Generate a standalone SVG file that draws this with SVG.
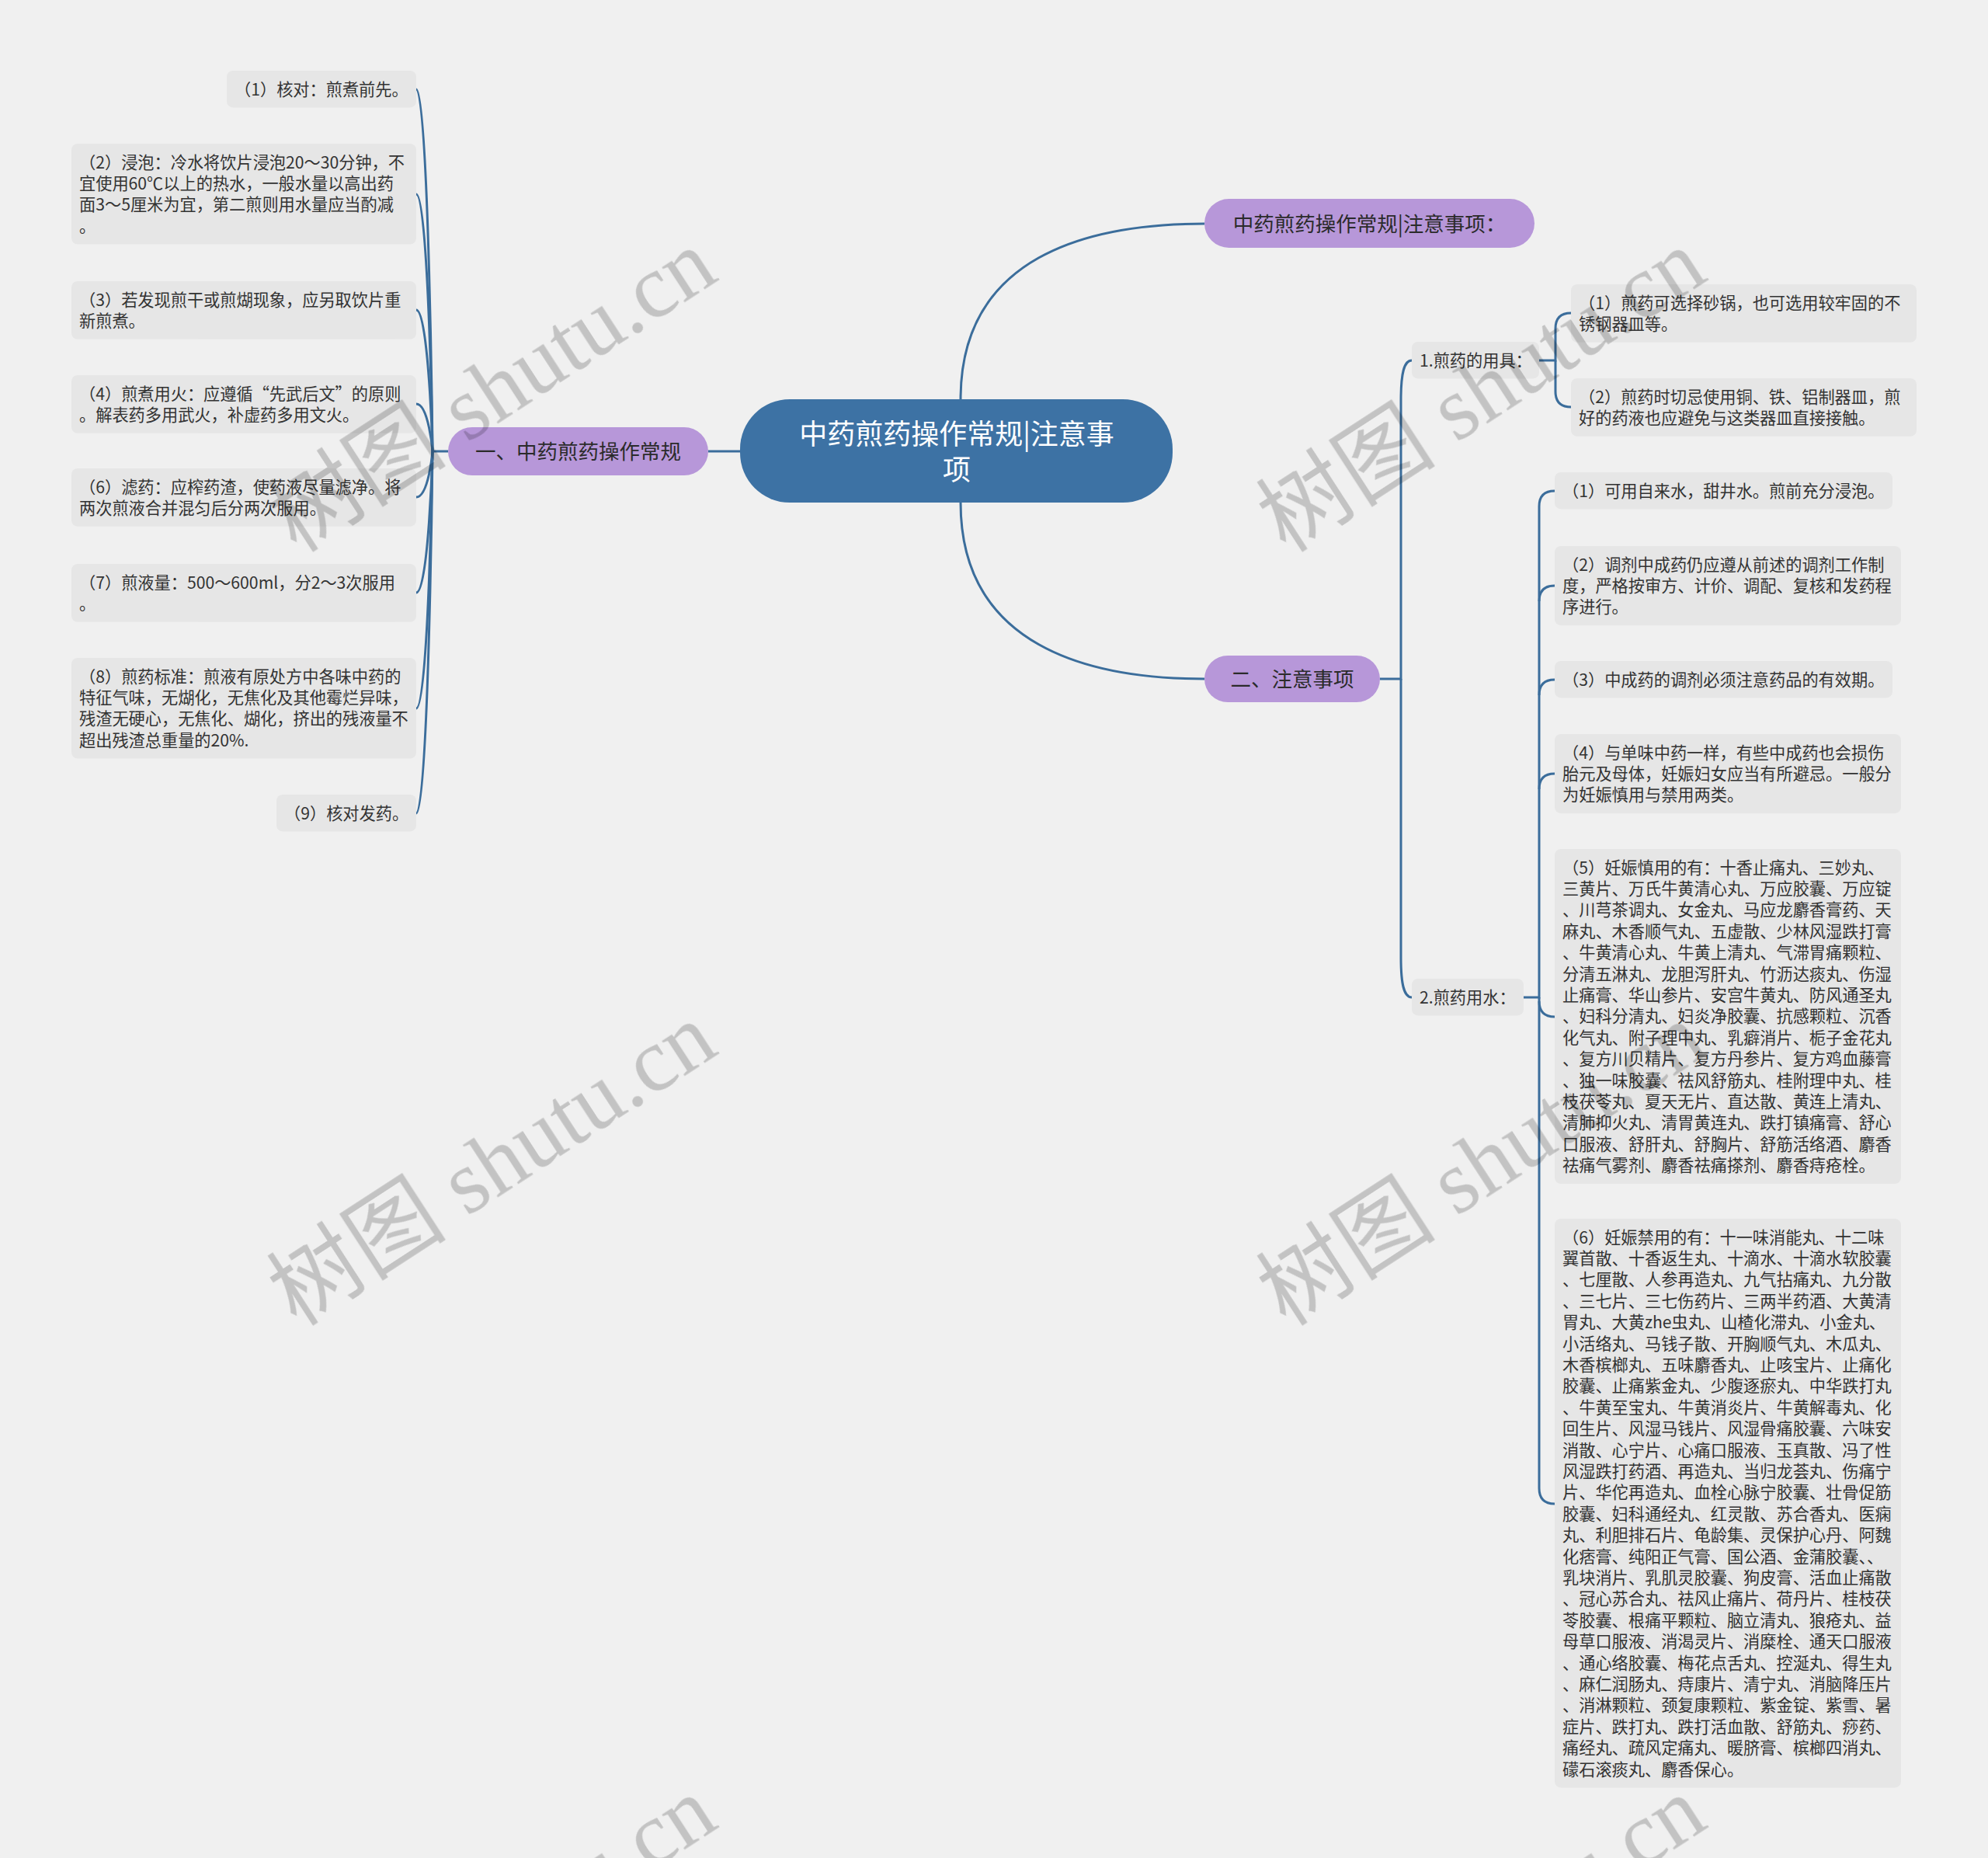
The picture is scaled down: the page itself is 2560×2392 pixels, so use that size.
<svg xmlns="http://www.w3.org/2000/svg" width="2560" height="2392" viewBox="0 0 2560 2392">
<style>
.box{fill:#e6e6e6}
.t{font-family:"Noto Sans CJK SC","Noto Sans",sans-serif;font-size:21.2px;fill:#333}
.pur{fill:#b797d9}
.pt{font-family:"Noto Sans CJK SC","Noto Sans",sans-serif;font-size:26.5px;fill:#2b2b2b;text-anchor:middle}
.root{fill:#3d72a4}
.rt{font-family:"Noto Sans CJK SC","Noto Sans",sans-serif;font-size:36px;fill:#ffffff;text-anchor:middle}
.ln{fill:none;stroke:#3b6d9b;stroke-width:3}
.wm{font-family:"Liberation Serif","Noto Sans CJK SC",serif;font-size:116px;fill:#d0d0d0}
</style>
<rect width="2560" height="2392" fill="#f0f0f0"/>

<g id="connectors">
<path class="ln" d="M1237,514 C1237,330 1400,288 1551,288"/>
<path class="ln" d="M1237,647 C1237,831 1400,874 1551,874"/>
<path class="ln" d="M953,581 H912"/>
<path class="ln" d="M577,581 H557"/>
<path class="ln" d="M557,581 C557,581 552,115 536,115"/>
<path class="ln" d="M557,581 C557,581 552,250 536,250"/>
<path class="ln" d="M557,581 C557,581 552,399 536,399"/>
<path class="ln" d="M557,581 C557,581 552,520 536,520"/>
<path class="ln" d="M557,581 C557,581 552,640 536,640"/>
<path class="ln" d="M557,581 C557,581 552,763 536,763"/>
<path class="ln" d="M557,581 C557,581 552,912 536,912"/>
<path class="ln" d="M557,581 C557,581 552,1047 536,1047"/>
<path class="ln" d="M1777,874 H1804 V515 C1804,480 1808,464 1818,464"/>
<path class="ln" d="M1804,874 V1233 C1804,1268 1808,1284 1818,1284"/>
<path class="ln" d="M1982,464 H2003 V423 Q2003,403 2023,403"/>
<path class="ln" d="M2003,464 V504 Q2003,524 2023,524"/>
<path class="ln" d="M1962,1284 H1982 V652 Q1982,632 2002,632"/>
<path class="ln" d="M1982,774 Q1982,754 2002,754"/>
<path class="ln" d="M1982,895 Q1982,875 2002,875"/>
<path class="ln" d="M1982,1016 Q1982,996 2002,996"/>
<path class="ln" d="M1982,1284 V1916 Q1982,1936 2002,1936"/>
<path class="ln" d="M1982,1289 Q1982,1309 2002,1309"/>
</g>

<g id="root">
<rect class="root" x="953" y="514" width="557" height="133" rx="64"/>
<text class="rt" x="1232" y="572">中药煎药操作常规|注意事</text>
<text class="rt" x="1232" y="618">项</text>
</g>

<g id="top-title">
<rect class="pur" x="1551" y="256" width="425" height="63" rx="31.5"/>
<text class="pt" x="1763.5" y="297.5">中药煎药操作常规|注意事项：</text>
</g>

<g id="branch-left">
<rect class="pur" x="577" y="550" width="335" height="62" rx="31"/>
<text class="pt" x="744.5" y="591">一、中药煎药操作常规</text>
</g>

<g id="branch-right">
<rect class="pur" x="1551" y="844" width="226" height="60" rx="30"/>
<text class="pt" x="1664" y="884">二、注意事项</text>
</g>

<g id="l1">
<rect class="box" x="292" y="91" width="244" height="47.4" rx="8"/>
<text class="t" x="302" y="122.5">（1）核对：煎煮前先。</text>
</g>
<g id="l2">
<rect class="box" x="92" y="185" width="444" height="129.6" rx="8"/>
<text class="t" x="102" y="216.5">（2）浸泡：冷水将饮片浸泡20～30分钟，不</text>
<text class="t" x="102" y="243.9">宜使用60℃以上的热水，一般水量以高出药</text>
<text class="t" x="102" y="271.3">面3～5厘米为宜，第二煎则用水量应当酌减</text>
<text class="t" x="102" y="298.7">。</text>
</g>
<g id="l3">
<rect class="box" x="92" y="362" width="444" height="74.8" rx="8"/>
<text class="t" x="102" y="393.5">（3）若发现煎干或煎煳现象，应另取饮片重</text>
<text class="t" x="102" y="420.9">新煎煮。</text>
</g>
<g id="l4">
<rect class="box" x="92" y="483" width="444" height="74.8" rx="8"/>
<text class="t" x="102" y="514.5">（4）煎煮用火：应遵循“先武后文”的原则</text>
<text class="t" x="102" y="541.9">。解表药多用武火，补虚药多用文火。</text>
</g>
<g id="l6">
<rect class="box" x="92" y="603" width="444" height="74.8" rx="8"/>
<text class="t" x="102" y="634.5">（6）滤药：应榨药渣，使药液尽量滤净。将</text>
<text class="t" x="102" y="661.9">两次煎液合并混匀后分两次服用。</text>
</g>
<g id="l7">
<rect class="box" x="92" y="726" width="444" height="74.8" rx="8"/>
<text class="t" x="102" y="757.5">（7）煎液量：500～600ml，分2～3次服用</text>
<text class="t" x="102" y="784.9">。</text>
</g>
<g id="l8">
<rect class="box" x="92" y="847" width="444" height="129.6" rx="8"/>
<text class="t" x="102" y="878.5">（8）煎药标准：煎液有原处方中各味中药的</text>
<text class="t" x="102" y="905.9">特征气味，无煳化，无焦化及其他霉烂异味，</text>
<text class="t" x="102" y="933.3">残渣无硬心，无焦化、煳化，挤出的残液量不</text>
<text class="t" x="102" y="960.7">超出残渣总重量的20%.</text>
</g>
<g id="l9">
<rect class="box" x="356" y="1023" width="180" height="47.4" rx="8"/>
<text class="t" x="366" y="1054.5">（9）核对发药。</text>
</g>

<g id="r1">
<rect class="box" x="1818" y="440" width="164" height="47.4" rx="8"/>
<text class="t" x="1828" y="471.5">1.煎药的用具：</text>
</g>
<g id="r1a">
<rect class="box" x="2023" y="366" width="445" height="74.8" rx="8"/>
<text class="t" x="2033" y="397.5">（1）煎药可选择砂锅，也可选用较牢固的不</text>
<text class="t" x="2033" y="424.9">锈钢器皿等。</text>
</g>
<g id="r1b">
<rect class="box" x="2023" y="487" width="445" height="74.8" rx="8"/>
<text class="t" x="2033" y="518.5">（2）煎药时切忌使用铜、铁、铝制器皿，煎</text>
<text class="t" x="2033" y="545.9">好的药液也应避免与这类器皿直接接触。</text>
</g>

<g id="r2">
<rect class="box" x="1818" y="1260" width="144" height="47.4" rx="8"/>
<text class="t" x="1828" y="1291.5">2.煎药用水：</text>
</g>
<g id="r2a">
<rect class="box" x="2002" y="608" width="435" height="47.4" rx="8"/>
<text class="t" x="2012" y="639.5">（1）可用自来水，甜井水。煎前充分浸泡。</text>
</g>
<g id="r2b">
<rect class="box" x="2002" y="703" width="446" height="102.2" rx="8"/>
<text class="t" x="2012" y="734.5">（2）调剂中成药仍应遵从前述的调剂工作制</text>
<text class="t" x="2012" y="761.9">度，严格按审方、计价、调配、复核和发药程</text>
<text class="t" x="2012" y="789.3">序进行。</text>
</g>
<g id="r2c">
<rect class="box" x="2002" y="851" width="435" height="47.4" rx="8"/>
<text class="t" x="2012" y="882.5">（3）中成药的调剂必须注意药品的有效期。</text>
</g>
<g id="r2d">
<rect class="box" x="2002" y="945" width="446" height="102.2" rx="8"/>
<text class="t" x="2012" y="976.5">（4）与单味中药一样，有些中成药也会损伤</text>
<text class="t" x="2012" y="1003.9">胎元及母体，妊娠妇女应当有所避忌。一般分</text>
<text class="t" x="2012" y="1031.3">为妊娠慎用与禁用两类。</text>
</g>
<g id="r2e">
<rect class="box" x="2002" y="1093" width="446" height="431" rx="8"/>
<text class="t" x="2012" y="1124.5">（5）妊娠慎用的有：十香止痛丸、三妙丸、</text>
<text class="t" x="2012" y="1151.9">三黄片、万氏牛黄清心丸、万应胶囊、万应锭</text>
<text class="t" x="2012" y="1179.3">、川芎茶调丸、女金丸、马应龙麝香膏药、天</text>
<text class="t" x="2012" y="1206.7">麻丸、木香顺气丸、五虚散、少林风湿跌打膏</text>
<text class="t" x="2012" y="1234.1">、牛黄清心丸、牛黄上清丸、气滞胃痛颗粒、</text>
<text class="t" x="2012" y="1261.5">分清五淋丸、龙胆泻肝丸、竹沥达痰丸、伤湿</text>
<text class="t" x="2012" y="1288.9">止痛膏、华山参片、安宫牛黄丸、防风通圣丸</text>
<text class="t" x="2012" y="1316.3">、妇科分清丸、妇炎净胶囊、抗感颗粒、沉香</text>
<text class="t" x="2012" y="1343.7">化气丸、附子理中丸、乳癖消片、栀子金花丸</text>
<text class="t" x="2012" y="1371.1">、复方川贝精片、复方丹参片、复方鸡血藤膏</text>
<text class="t" x="2012" y="1398.5">、独一味胶囊、祛风舒筋丸、桂附理中丸、桂</text>
<text class="t" x="2012" y="1425.9">枝茯苓丸、夏天无片、直达散、黄连上清丸、</text>
<text class="t" x="2012" y="1453.3">清肺抑火丸、清胃黄连丸、跌打镇痛膏、舒心</text>
<text class="t" x="2012" y="1480.7">口服液、舒肝丸、舒胸片、舒筋活络酒、麝香</text>
<text class="t" x="2012" y="1508.1">祛痛气雾剂、麝香祛痛搽剂、麝香痔疮栓。</text>
</g>
<g id="r2f">
<rect class="box" x="2002" y="1569" width="446" height="732.4" rx="8"/>
<text class="t" x="2012" y="1600.5">（6）妊娠禁用的有：十一味消能丸、十二味</text>
<text class="t" x="2012" y="1627.9">翼首散、十香返生丸、十滴水、十滴水软胶囊</text>
<text class="t" x="2012" y="1655.3">、七厘散、人参再造丸、九气拈痛丸、九分散</text>
<text class="t" x="2012" y="1682.7">、三七片、三七伤药片、三两半药酒、大黄清</text>
<text class="t" x="2012" y="1710.1">胃丸、大黄zhe虫丸、山楂化滞丸、小金丸、</text>
<text class="t" x="2012" y="1737.5">小活络丸、马钱子散、开胸顺气丸、木瓜丸、</text>
<text class="t" x="2012" y="1764.9">木香槟榔丸、五味麝香丸、止咳宝片、止痛化</text>
<text class="t" x="2012" y="1792.3">胶囊、止痛紫金丸、少腹逐瘀丸、中华跌打丸</text>
<text class="t" x="2012" y="1819.7">、牛黄至宝丸、牛黄消炎片、牛黄解毒丸、化</text>
<text class="t" x="2012" y="1847.1">回生片、风湿马钱片、风湿骨痛胶囊、六味安</text>
<text class="t" x="2012" y="1874.5">消散、心宁片、心痛口服液、玉真散、冯了性</text>
<text class="t" x="2012" y="1901.9">风湿跌打药酒、再造丸、当归龙荟丸、伤痛宁</text>
<text class="t" x="2012" y="1929.3">片、华佗再造丸、血栓心脉宁胶囊、壮骨促筋</text>
<text class="t" x="2012" y="1956.7">胶囊、妇科通经丸、红灵散、苏合香丸、医痫</text>
<text class="t" x="2012" y="1984.1">丸、利胆排石片、龟龄集、灵保护心丹、阿魏</text>
<text class="t" x="2012" y="2011.5">化痞膏、纯阳正气膏、国公酒、金蒲胶囊、、</text>
<text class="t" x="2012" y="2038.9">乳块消片、乳肌灵胶囊、狗皮膏、活血止痛散</text>
<text class="t" x="2012" y="2066.3">、冠心苏合丸、祛风止痛片、荷丹片、桂枝茯</text>
<text class="t" x="2012" y="2093.7">苓胶囊、根痛平颗粒、脑立清丸、狼疮丸、益</text>
<text class="t" x="2012" y="2121.1">母草口服液、消渴灵片、消糜栓、通天口服液</text>
<text class="t" x="2012" y="2148.5">、通心络胶囊、梅花点舌丸、控涎丸、得生丸</text>
<text class="t" x="2012" y="2175.9">、麻仁润肠丸、痔康片、清宁丸、消脑降压片</text>
<text class="t" x="2012" y="2203.3">、消淋颗粒、颈复康颗粒、紫金锭、紫雪、暑</text>
<text class="t" x="2012" y="2230.7">症片、跌打丸、跌打活血散、舒筋丸、痧药、</text>
<text class="t" x="2012" y="2258.1">痛经丸、疏风定痛丸、暖脐膏、槟榔四消丸、</text>
<text class="t" x="2012" y="2285.5">礞石滚痰丸、麝香保心。</text>
</g>

<g id="watermarks" style="mix-blend-mode:multiply">
<text class="wm" x="382" y="713" transform="rotate(-33 382 713)">树图 shutu.cn</text>
<text class="wm" x="1656" y="713" transform="rotate(-33 1656 713)">树图 shutu.cn</text>
<text class="wm" x="382" y="1709" transform="rotate(-33 382 1709)">树图 shutu.cn</text>
<text class="wm" x="1656" y="1709" transform="rotate(-33 1656 1709)">树图 shutu.cn</text>
<text class="wm" x="382" y="2705" transform="rotate(-33 382 2705)">树图 shutu.cn</text>
<text class="wm" x="1656" y="2705" transform="rotate(-33 1656 2705)">树图 shutu.cn</text>
</g>
</svg>
